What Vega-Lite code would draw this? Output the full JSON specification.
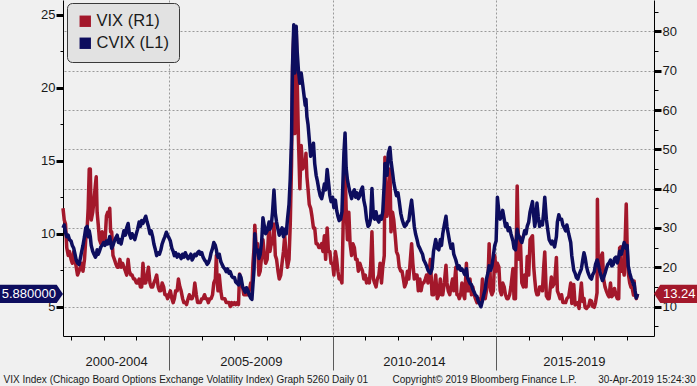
{
"$schema": "https://vega.github.io/schema/vega-lite/v6.json",
"width": 591, "height": 336,
"autosize": {"type": "none"},
"padding": {"left": 63, "top": 0, "right": 43, "bottom": 50},
"background": "#f0f0f0",
"config": {
 "view": {"stroke": null},
 "axis": {"labelFont": "Liberation Sans", "labelFontSize": 13, "labelColor": "#1a1a1a", "tickColor": "#000000", "domainColor": "#000000", "titleFont": "Liberation Sans", "titleFontWeight": "normal", "titleFontSize": 10, "titleColor": "#1a1a1a", "gridColor": "#9a9a9a", "gridDash": [2, 2], "gridWidth": 1},
 "legend": {"orient": "none", "legendX": 4, "legendY": 3, "direction": "vertical", "fillColor": "#e2e2e2", "strokeColor": "#3a3a3a", "cornerRadius": 5, "padding": 10, "symbolType": "square", "symbolSize": 130, "symbolStrokeWidth": 0, "labelFont": "Liberation Sans", "labelFontSize": 16.5, "labelColor": "#1a1a1a", "rowPadding": 5, "labelOffset": 3}
},
"datasets": {
 "lastvix": [{"v": 13.24, "t": "13.24"}],
 "lastcvix": [{"v": 5.88, "t": "5.880000"}],
 "series": [
{"d":"2001-10-04","vix":35,"cvix":10.4},{"d":"2001-10-18","vix":32,"cvix":10.6},{"d":"2001-11-01","vix":31,"cvix":10.1},{"d":"2001-11-15","vix":25,"cvix":9.8},{"d":"2001-12-01","vix":23,"cvix":9.9},{"d":"2001-12-15","vix":24,"cvix":9.6},
{"d":"2002-01-02","vix":22,"cvix":9.5},{"d":"2002-01-16","vix":21,"cvix":9.2},{"d":"2002-02-01","vix":24,"cvix":9.0},{"d":"2002-02-15","vix":22,"cvix":8.6},{"d":"2002-03-01","vix":20,"cvix":8.2},{"d":"2002-03-15","vix":18,"cvix":8.0},{"d":"2002-04-01","vix":19,"cvix":7.9},{"d":"2002-04-15","vix":20,"cvix":8.3},{"d":"2002-05-01","vix":21,"cvix":8.8},{"d":"2002-05-15","vix":19,"cvix":9.2},{"d":"2002-06-01","vix":22,"cvix":9.8},{"d":"2002-06-15","vix":27,"cvix":10.4},{"d":"2002-07-01","vix":30,"cvix":10.5},{"d":"2002-07-12","vix":35,"cvix":9.8},{"d":"2002-07-24","vix":45,"cvix":10.2},{"d":"2002-08-05","vix":45,"cvix":9.8},{"d":"2002-08-15","vix":32,"cvix":9.2},{"d":"2002-09-01","vix":34,"cvix":8.8},{"d":"2002-09-15","vix":37,"cvix":8.6},{"d":"2002-10-01","vix":41,"cvix":8.4},{"d":"2002-10-10","vix":43,"cvix":8.5},{"d":"2002-10-20","vix":34,"cvix":8.9},{"d":"2002-11-01","vix":31,"cvix":8.6},{"d":"2002-11-15","vix":27,"cvix":8.8},{"d":"2002-12-01","vix":26,"cvix":9.1},{"d":"2002-12-15","vix":29,"cvix":9.2},
{"d":"2003-01-01","vix":27,"cvix":9.4},{"d":"2003-01-15","vix":26,"cvix":9.2},{"d":"2003-02-01","vix":33,"cvix":9.5},{"d":"2003-02-15","vix":34,"cvix":9.3},{"d":"2003-03-01","vix":33,"cvix":9.6},{"d":"2003-03-10","vix":35,"cvix":9.8},{"d":"2003-03-20","vix":29,"cvix":9.4},{"d":"2003-04-01","vix":29,"cvix":9.0},{"d":"2003-04-15","vix":23,"cvix":9.2},{"d":"2003-05-01","vix":22,"cvix":9.5},{"d":"2003-05-15","vix":21,"cvix":9.7},{"d":"2003-06-01","vix":20,"cvix":9.9},{"d":"2003-06-15","vix":20,"cvix":9.4},{"d":"2003-07-01","vix":22,"cvix":9.6},{"d":"2003-07-15","vix":20,"cvix":9.3},{"d":"2003-08-01","vix":21,"cvix":9.8},{"d":"2003-08-15","vix":20,"cvix":10.2},{"d":"2003-09-01","vix":19,"cvix":9.9},{"d":"2003-09-15","vix":18,"cvix":10.4},{"d":"2003-10-01","vix":22,"cvix":10.7},{"d":"2003-10-15","vix":19,"cvix":10.0},{"d":"2003-11-01","vix":18,"cvix":9.7},{"d":"2003-11-15","vix":18,"cvix":10.0},{"d":"2003-12-01","vix":17,"cvix":9.8},{"d":"2003-12-15","vix":17,"cvix":9.6},
{"d":"2004-01-01","vix":16,"cvix":10.0},{"d":"2004-01-15","vix":16,"cvix":10.3},{"d":"2004-02-01","vix":17,"cvix":10.8},{"d":"2004-02-15","vix":15,"cvix":10.5},{"d":"2004-03-01","vix":15,"cvix":10.9},{"d":"2004-03-15","vix":21,"cvix":10.7},{"d":"2004-04-01","vix":16,"cvix":11.0},{"d":"2004-04-15","vix":16,"cvix":11.2},{"d":"2004-05-01","vix":18,"cvix":10.8},{"d":"2004-05-15","vix":20,"cvix":10.5},{"d":"2004-06-01","vix":16,"cvix":10.0},{"d":"2004-06-15","vix":15,"cvix":10.2},{"d":"2004-07-01","vix":15,"cvix":9.8},{"d":"2004-07-15","vix":16,"cvix":9.3},{"d":"2004-08-01","vix":17,"cvix":8.9},{"d":"2004-08-15","vix":18,"cvix":8.5},{"d":"2004-09-01","vix":15,"cvix":8.7},{"d":"2004-09-15","vix":14,"cvix":8.6},{"d":"2004-10-01","vix":14,"cvix":8.9},{"d":"2004-10-15","vix":16,"cvix":9.3},{"d":"2004-11-01","vix":15,"cvix":9.6},{"d":"2004-11-15","vix":13,"cvix":9.8},{"d":"2004-12-01","vix":13,"cvix":10.1},{"d":"2004-12-15","vix":12,"cvix":9.9},
{"d":"2005-01-01","vix":13,"cvix":9.7},{"d":"2005-01-15","vix":14,"cvix":9.5},{"d":"2005-02-01","vix":12,"cvix":9.0},{"d":"2005-02-15","vix":11,"cvix":8.8},{"d":"2005-03-01","vix":12,"cvix":8.5},{"d":"2005-03-15","vix":14,"cvix":8.7},{"d":"2005-04-01","vix":14,"cvix":8.4},{"d":"2005-04-15","vix":17,"cvix":8.6},{"d":"2005-05-01","vix":15,"cvix":8.5},{"d":"2005-05-15","vix":14,"cvix":8.3},{"d":"2005-06-01","vix":12,"cvix":8.6},{"d":"2005-06-15","vix":11,"cvix":8.4},{"d":"2005-07-01","vix":11,"cvix":8.7},{"d":"2005-07-15","vix":10.5,"cvix":8.5},{"d":"2005-08-01","vix":12,"cvix":8.3},{"d":"2005-08-15","vix":13,"cvix":8.4},{"d":"2005-09-01","vix":12,"cvix":8.6},{"d":"2005-09-15","vix":12,"cvix":8.2},{"d":"2005-10-01","vix":13,"cvix":8.4},{"d":"2005-10-15","vix":16,"cvix":8.6},{"d":"2005-11-01","vix":13,"cvix":8.5},{"d":"2005-11-15","vix":11,"cvix":8.7},{"d":"2005-12-01","vix":11,"cvix":8.8},{"d":"2005-12-15","vix":11,"cvix":8.6},
{"d":"2006-01-01","vix":12,"cvix":8.7},{"d":"2006-01-15","vix":12,"cvix":8.4},{"d":"2006-02-01","vix":13,"cvix":8.2},{"d":"2006-02-15","vix":12,"cvix":8.1},{"d":"2006-03-01","vix":12,"cvix":7.9},{"d":"2006-03-15","vix":11,"cvix":8.0},{"d":"2006-04-01","vix":12,"cvix":8.3},{"d":"2006-04-15","vix":12,"cvix":8.7},{"d":"2006-05-01","vix":13,"cvix":9.0},{"d":"2006-05-15","vix":16,"cvix":9.4},{"d":"2006-06-01","vix":17,"cvix":9.2},{"d":"2006-06-13","vix":23,"cvix":8.9},{"d":"2006-06-20","vix":17,"cvix":8.6},{"d":"2006-07-01","vix":14,"cvix":8.4},{"d":"2006-07-15","vix":18,"cvix":8.6},{"d":"2006-08-01","vix":14,"cvix":8.1},{"d":"2006-08-15","vix":12,"cvix":7.9},{"d":"2006-09-01","vix":12,"cvix":7.7},{"d":"2006-09-15","vix":12,"cvix":7.6},{"d":"2006-10-01","vix":11,"cvix":7.4},{"d":"2006-10-15","vix":11,"cvix":7.6},{"d":"2006-11-01","vix":11,"cvix":7.3},{"d":"2006-11-15","vix":10,"cvix":7.4},{"d":"2006-12-01","vix":11,"cvix":7.1},{"d":"2006-12-15","vix":10.5,"cvix":7.0},
{"d":"2007-01-01","vix":11,"cvix":7.0},{"d":"2007-01-15","vix":10.5,"cvix":6.7},{"d":"2007-02-01","vix":11,"cvix":6.6},{"d":"2007-02-15","vix":10.5,"cvix":6.5},{"d":"2007-02-27","vix":18.3,"cvix":7.2},{"d":"2007-03-15","vix":16,"cvix":7.0},{"d":"2007-04-01","vix":15,"cvix":6.4},{"d":"2007-04-15","vix":13,"cvix":6.2},{"d":"2007-05-01","vix":13,"cvix":6.0},{"d":"2007-05-15","vix":13,"cvix":6.3},{"d":"2007-06-01","vix":13,"cvix":6.1},{"d":"2007-06-15","vix":14,"cvix":5.8},{"d":"2007-07-01","vix":16,"cvix":5.6},{"d":"2007-07-15","vix":15,"cvix":5.5},{"d":"2007-07-26","vix":21,"cvix":6.5},{"d":"2007-08-08","vix":25,"cvix":7.6},{"d":"2007-08-16","vix":30.7,"cvix":10.0},{"d":"2007-09-01","vix":25,"cvix":8.8},{"d":"2007-09-15","vix":26,"cvix":8.9},{"d":"2007-10-01","vix":18,"cvix":8.3},{"d":"2007-10-15","vix":19,"cvix":8.6},{"d":"2007-11-01","vix":23,"cvix":9.5},{"d":"2007-11-15","vix":27,"cvix":11.1},{"d":"2007-12-01","vix":23,"cvix":10.5},{"d":"2007-12-15","vix":21,"cvix":10.0},
{"d":"2008-01-01","vix":22,"cvix":10.2},{"d":"2008-01-22","vix":31,"cvix":10.8},{"d":"2008-02-01","vix":24,"cvix":10.3},{"d":"2008-02-15","vix":26,"cvix":10.5},{"d":"2008-03-01","vix":26,"cvix":11.5},{"d":"2008-03-17","vix":31,"cvix":13.0},{"d":"2008-04-01","vix":23,"cvix":11.4},{"d":"2008-04-15","vix":22,"cvix":10.8},{"d":"2008-05-01","vix":19,"cvix":10.3},{"d":"2008-05-15","vix":17,"cvix":9.9},{"d":"2008-06-01","vix":18,"cvix":10.2},{"d":"2008-06-15","vix":21,"cvix":10.4},{"d":"2008-07-01","vix":24,"cvix":9.8},{"d":"2008-07-15","vix":28,"cvix":10.3},{"d":"2008-08-01","vix":23,"cvix":10.0},{"d":"2008-08-15","vix":20,"cvix":11.0},{"d":"2008-09-01","vix":22,"cvix":12.0},{"d":"2008-09-15","vix":31,"cvix":13.8},{"d":"2008-09-29","vix":46,"cvix":16.5},{"d":"2008-10-10","vix":70,"cvix":21.5},{"d":"2008-10-24","vix":79,"cvix":24.3},{"d":"2008-11-05","vix":54,"cvix":21.0},{"d":"2008-11-20","vix":80.9,"cvix":24.2},{"d":"2008-12-01","vix":68,"cvix":22.5},{"d":"2008-12-15","vix":53,"cvix":21.2},{"d":"2008-12-31","vix":40,"cvix":20.3},
{"d":"2009-01-15","vix":51,"cvix":21.0},{"d":"2009-02-01","vix":45,"cvix":20.2},{"d":"2009-02-15","vix":46,"cvix":19.5},{"d":"2009-03-01","vix":46,"cvix":18.8},{"d":"2009-03-09","vix":49,"cvix":19.2},{"d":"2009-03-20","vix":43,"cvix":18.0},{"d":"2009-04-01","vix":40,"cvix":17.5},{"d":"2009-04-15","vix":36,"cvix":16.5},{"d":"2009-05-01","vix":35,"cvix":15.3},{"d":"2009-05-15","vix":33,"cvix":15.8},{"d":"2009-06-01","vix":30,"cvix":16.2},{"d":"2009-06-15","vix":30,"cvix":14.8},{"d":"2009-07-01","vix":26,"cvix":14.0},{"d":"2009-07-15","vix":26,"cvix":13.6},{"d":"2009-08-01","vix":25,"cvix":13.0},{"d":"2009-08-15","vix":25,"cvix":12.6},{"d":"2009-09-01","vix":26,"cvix":12.4},{"d":"2009-09-15","vix":24,"cvix":12.8},{"d":"2009-10-01","vix":28,"cvix":13.4},{"d":"2009-10-15","vix":22,"cvix":13.0},{"d":"2009-11-01","vix":30,"cvix":14.4},{"d":"2009-11-15","vix":24,"cvix":13.6},{"d":"2009-12-01","vix":24,"cvix":12.6},{"d":"2009-12-15","vix":21,"cvix":12.2},
{"d":"2010-01-01","vix":21,"cvix":12.5},{"d":"2010-01-15","vix":18,"cvix":11.8},{"d":"2010-02-01","vix":24,"cvix":12.3},{"d":"2010-02-15","vix":22,"cvix":11.6},{"d":"2010-03-01","vix":19,"cvix":11.2},{"d":"2010-03-15","vix":17,"cvix":10.9},{"d":"2010-04-01","vix":17,"cvix":11.0},{"d":"2010-04-15","vix":16,"cvix":11.5},{"d":"2010-05-07","vix":40,"cvix":15.5},{"d":"2010-05-20","vix":45.8,"cvix":16.9},{"d":"2010-06-01","vix":35,"cvix":14.5},{"d":"2010-06-15","vix":27,"cvix":13.7},{"d":"2010-07-01","vix":34,"cvix":13.2},{"d":"2010-07-15","vix":26,"cvix":12.8},{"d":"2010-08-01","vix":23,"cvix":12.4},{"d":"2010-08-15","vix":26,"cvix":12.8},{"d":"2010-09-01","vix":25,"cvix":13.0},{"d":"2010-09-15","vix":22,"cvix":12.5},{"d":"2010-10-01","vix":22,"cvix":12.8},{"d":"2010-10-15","vix":19,"cvix":12.4},{"d":"2010-11-01","vix":21,"cvix":12.6},{"d":"2010-11-15","vix":20,"cvix":13.0},{"d":"2010-12-01","vix":19,"cvix":13.2},{"d":"2010-12-15","vix":17,"cvix":12.3},
{"d":"2011-01-01","vix":18,"cvix":11.8},{"d":"2011-01-15","vix":16,"cvix":11.0},{"d":"2011-02-01","vix":17,"cvix":10.5},{"d":"2011-02-15","vix":16,"cvix":10.6},{"d":"2011-03-01","vix":20,"cvix":11.0},{"d":"2011-03-16","vix":29,"cvix":13.1},{"d":"2011-04-01","vix":17,"cvix":11.2},{"d":"2011-04-15","vix":16,"cvix":11.0},{"d":"2011-05-01","vix":15,"cvix":11.5},{"d":"2011-05-15","vix":17,"cvix":11.0},{"d":"2011-06-01","vix":18,"cvix":10.8},{"d":"2011-06-15","vix":21,"cvix":11.2},{"d":"2011-07-01","vix":16,"cvix":11.0},{"d":"2011-07-15","vix":20,"cvix":11.5},{"d":"2011-08-01","vix":23,"cvix":13.5},{"d":"2011-08-08","vix":48,"cvix":14.8},{"d":"2011-08-20","vix":40,"cvix":14.5},{"d":"2011-09-01","vix":33,"cvix":14.0},{"d":"2011-09-15","vix":37,"cvix":15.5},{"d":"2011-10-03","vix":45,"cvix":15.9},{"d":"2011-10-15","vix":29,"cvix":15.0},{"d":"2011-11-01","vix":34,"cvix":14.2},{"d":"2011-11-15","vix":32,"cvix":13.5},{"d":"2011-12-01","vix":28,"cvix":13.0},{"d":"2011-12-15","vix":24,"cvix":12.6},
{"d":"2012-01-01","vix":23,"cvix":12.8},{"d":"2012-01-15","vix":20,"cvix":12.2},{"d":"2012-02-01","vix":19,"cvix":11.4},{"d":"2012-02-15","vix":19,"cvix":11.0},{"d":"2012-03-01","vix":17,"cvix":10.7},{"d":"2012-03-15","vix":15,"cvix":10.5},{"d":"2012-04-01","vix":16,"cvix":10.6},{"d":"2012-04-15","vix":19,"cvix":10.8},{"d":"2012-05-01","vix":17,"cvix":10.9},{"d":"2012-05-15","vix":21,"cvix":11.6},{"d":"2012-06-01","vix":26,"cvix":12.3},{"d":"2012-06-15","vix":21,"cvix":11.5},{"d":"2012-07-01","vix":17,"cvix":10.5},{"d":"2012-07-15","vix":18,"cvix":10.0},{"d":"2012-08-01","vix":18,"cvix":9.6},{"d":"2012-08-15","vix":14,"cvix":9.2},{"d":"2012-09-01","vix":17,"cvix":9.0},{"d":"2012-09-15","vix":14,"cvix":8.8},{"d":"2012-10-01","vix":16,"cvix":8.6},{"d":"2012-10-15","vix":16,"cvix":8.2},{"d":"2012-11-01","vix":17,"cvix":8.0},{"d":"2012-11-15","vix":18,"cvix":7.8},{"d":"2012-12-01","vix":16,"cvix":7.5},{"d":"2012-12-28","vix":22,"cvix":7.3},
{"d":"2013-01-15","vix":13,"cvix":7.6},{"d":"2013-02-01","vix":13,"cvix":8.8},{"d":"2013-02-25","vix":18,"cvix":9.6},{"d":"2013-03-15","vix":12,"cvix":9.0},{"d":"2013-04-01","vix":13,"cvix":8.9},{"d":"2013-04-18","vix":17,"cvix":9.6},{"d":"2013-05-01","vix":13,"cvix":9.2},{"d":"2013-05-15","vix":13,"cvix":10.0},{"d":"2013-06-01","vix":16,"cvix":10.6},{"d":"2013-06-20","vix":20.5,"cvix":11.2},{"d":"2013-07-01","vix":16,"cvix":10.5},{"d":"2013-07-15","vix":14,"cvix":10.0},{"d":"2013-08-01","vix":13,"cvix":9.4},{"d":"2013-08-15","vix":15,"cvix":9.0},{"d":"2013-09-01","vix":17,"cvix":9.3},{"d":"2013-09-15","vix":14,"cvix":8.6},{"d":"2013-10-08","vix":20,"cvix":8.2},{"d":"2013-10-20","vix":13,"cvix":7.9},{"d":"2013-11-01","vix":13,"cvix":7.6},{"d":"2013-11-15","vix":12,"cvix":7.8},{"d":"2013-12-01","vix":13,"cvix":7.5},{"d":"2013-12-15","vix":16,"cvix":7.6},
{"d":"2014-01-01","vix":13,"cvix":7.4},{"d":"2014-01-15","vix":12,"cvix":7.2},{"d":"2014-02-03","vix":21,"cvix":7.6},{"d":"2014-02-15","vix":14,"cvix":7.0},{"d":"2014-03-01","vix":14,"cvix":6.8},{"d":"2014-03-15","vix":17,"cvix":6.6},{"d":"2014-04-01","vix":13,"cvix":6.5},{"d":"2014-04-15","vix":15,"cvix":6.2},{"d":"2014-05-01","vix":13,"cvix":6.0},{"d":"2014-05-15","vix":12,"cvix":5.8},{"d":"2014-06-01","vix":11,"cvix":5.7},{"d":"2014-06-15","vix":12,"cvix":5.4},{"d":"2014-07-01","vix":11,"cvix":5.2},{"d":"2014-07-15","vix":11,"cvix":5.0},{"d":"2014-08-01","vix":17,"cvix":5.4},{"d":"2014-08-15","vix":13,"cvix":5.8},{"d":"2014-09-01","vix":12,"cvix":6.2},{"d":"2014-09-15","vix":14,"cvix":6.9},{"d":"2014-10-01","vix":16,"cvix":7.3},{"d":"2014-10-15","vix":26,"cvix":7.8},{"d":"2014-11-01","vix":14,"cvix":7.5},{"d":"2014-11-15","vix":13,"cvix":7.8},{"d":"2014-12-01","vix":14,"cvix":8.5},{"d":"2014-12-16","vix":23,"cvix":9.2},
{"d":"2015-01-01","vix":19,"cvix":9.5},{"d":"2015-01-15","vix":21,"cvix":12.5},{"d":"2015-02-01","vix":20,"cvix":11.5},{"d":"2015-02-15","vix":14,"cvix":11.0},{"d":"2015-03-01","vix":13,"cvix":11.2},{"d":"2015-03-15","vix":16,"cvix":11.6},{"d":"2015-04-01","vix":15,"cvix":11.0},{"d":"2015-04-15","vix":13,"cvix":10.5},{"d":"2015-05-01","vix":12,"cvix":10.7},{"d":"2015-05-15","vix":12,"cvix":10.2},{"d":"2015-06-01","vix":13,"cvix":10.4},{"d":"2015-06-15","vix":15,"cvix":10.0},{"d":"2015-07-08","vix":19.7,"cvix":9.5},{"d":"2015-07-20","vix":12,"cvix":9.0},{"d":"2015-08-05","vix":12,"cvix":8.9},{"d":"2015-08-24","vix":40.7,"cvix":10.3},{"d":"2015-09-01","vix":31,"cvix":10.0},{"d":"2015-09-15","vix":22,"cvix":9.8},{"d":"2015-09-28","vix":27.6,"cvix":9.6},{"d":"2015-10-15","vix":16,"cvix":9.4},{"d":"2015-11-01","vix":15,"cvix":9.8},{"d":"2015-11-15","vix":18,"cvix":10.2},{"d":"2015-12-01","vix":15,"cvix":10.0},{"d":"2015-12-14","vix":22.7,"cvix":10.5},{"d":"2015-12-31","vix":18,"cvix":10.8},
{"d":"2016-01-15","vix":27,"cvix":11.5},{"d":"2016-02-11","vix":28,"cvix":12.2},{"d":"2016-02-25","vix":20,"cvix":11.2},{"d":"2016-03-07","vix":17,"cvix":10.5},{"d":"2016-03-20","vix":14,"cvix":11.0},{"d":"2016-04-01","vix":13,"cvix":12.1},{"d":"2016-04-15","vix":13,"cvix":11.2},{"d":"2016-05-01","vix":15,"cvix":10.5},{"d":"2016-05-15","vix":15,"cvix":10.8},{"d":"2016-06-01","vix":14,"cvix":10.6},{"d":"2016-06-15","vix":20,"cvix":11.5},{"d":"2016-06-27","vix":23.9,"cvix":12.5},{"d":"2016-07-15","vix":12.7,"cvix":11.0},{"d":"2016-08-01","vix":12,"cvix":10.2},{"d":"2016-08-15","vix":12,"cvix":9.6},{"d":"2016-09-09","vix":17.5,"cvix":9.3},{"d":"2016-09-20","vix":15,"cvix":9.5},{"d":"2016-10-15","vix":16,"cvix":9.1},{"d":"2016-11-04","vix":22.5,"cvix":9.8},{"d":"2016-11-15","vix":14,"cvix":10.8},{"d":"2016-12-01","vix":13,"cvix":11.3},{"d":"2016-12-15","vix":12,"cvix":11.0},
{"d":"2017-01-01","vix":13,"cvix":11.0},{"d":"2017-01-15","vix":11,"cvix":10.6},{"d":"2017-02-01","vix":11,"cvix":10.4},{"d":"2017-02-15","vix":11,"cvix":10.2},{"d":"2017-03-01","vix":12,"cvix":10.6},{"d":"2017-03-21","vix":12.5,"cvix":10.0},{"d":"2017-04-13","vix":16,"cvix":9.4},{"d":"2017-04-25","vix":10.8,"cvix":8.5},{"d":"2017-05-17","vix":15.6,"cvix":7.5},{"d":"2017-06-01","vix":10.4,"cvix":7.3},{"d":"2017-06-15","vix":10.7,"cvix":7.0},{"d":"2017-07-01","vix":11,"cvix":6.9},{"d":"2017-07-15","vix":9.5,"cvix":7.2},{"d":"2017-08-10","vix":16,"cvix":7.6},{"d":"2017-08-25","vix":11.3,"cvix":8.2},{"d":"2017-09-08","vix":12.1,"cvix":8.7},{"d":"2017-09-20","vix":9.8,"cvix":8.4},{"d":"2017-10-05","vix":9.5,"cvix":7.8},{"d":"2017-10-20","vix":9.9,"cvix":7.4},{"d":"2017-11-01","vix":10.2,"cvix":7.2},{"d":"2017-11-15","vix":11.6,"cvix":7.0},{"d":"2017-12-01","vix":11.4,"cvix":6.9},{"d":"2017-12-15","vix":10,"cvix":7.2},
{"d":"2018-01-01","vix":9.8,"cvix":7.4},{"d":"2018-01-15","vix":11,"cvix":7.9},{"d":"2018-02-01","vix":13.5,"cvix":8.2},{"d":"2018-02-05","vix":37.3,"cvix":8.2},{"d":"2018-02-15","vix":19.5,"cvix":7.9},{"d":"2018-03-01","vix":19,"cvix":7.5},{"d":"2018-03-22","vix":23,"cvix":7.0},{"d":"2018-04-02","vix":23.6,"cvix":6.8},{"d":"2018-04-15","vix":17,"cvix":7.0},{"d":"2018-05-01","vix":15,"cvix":7.3},{"d":"2018-05-15","vix":14,"cvix":7.6},{"d":"2018-06-01","vix":13,"cvix":7.9},{"d":"2018-06-15","vix":12.5,"cvix":8.0},{"d":"2018-07-01","vix":16,"cvix":8.2},{"d":"2018-07-15","vix":12.5,"cvix":7.8},{"d":"2018-08-01","vix":13,"cvix":7.9},{"d":"2018-08-15","vix":14.6,"cvix":8.3},{"d":"2018-09-01","vix":12.9,"cvix":8.4},{"d":"2018-09-15","vix":12,"cvix":8.0},{"d":"2018-10-01","vix":12,"cvix":8.4},{"d":"2018-10-11","vix":24.9,"cvix":8.8},{"d":"2018-10-24","vix":25.2,"cvix":8.7},{"d":"2018-11-01","vix":19,"cvix":8.6},{"d":"2018-11-15","vix":20,"cvix":9.0},{"d":"2018-12-01","vix":18,"cvix":9.4},{"d":"2018-12-24","vix":36.1,"cvix":9.0},
{"d":"2019-01-03","vix":25.5,"cvix":9.2},{"d":"2019-01-15","vix":18.6,"cvix":7.8},{"d":"2019-02-01","vix":16,"cvix":7.3},{"d":"2019-02-15","vix":14.9,"cvix":7.0},{"d":"2019-03-01","vix":14.6,"cvix":6.8},{"d":"2019-03-15","vix":12.9,"cvix":6.5},{"d":"2019-03-22","vix":16.5,"cvix":6.6},{"d":"2019-04-01","vix":13.4,"cvix":6.1},{"d":"2019-04-15","vix":12,"cvix":5.6},{"d":"2019-04-30","vix":13.24,"cvix":5.88}
 ]
},
"layer": [
 {
  "data": {"name": "series"},
  "mark": {"type": "line", "strokeWidth": 3.5, "strokeJoin": "round"},
  "encoding": {
   "x": {"field": "d", "type": "temporal",
     "scale": {"domain": [{"year": 2001, "month": 10, "date": 4}, {"year": 2019, "month": 10, "date": 30}]},
     "axis": {"orient": "bottom", "values": [{"year":2002,"month":1,"date":1},{"year":2003,"month":1,"date":1},{"year":2004,"month":1,"date":1},{"year":2005,"month":1,"date":1},{"year":2006,"month":1,"date":1},{"year":2007,"month":1,"date":1},{"year":2008,"month":1,"date":1},{"year":2009,"month":1,"date":1},{"year":2010,"month":1,"date":1},{"year":2011,"month":1,"date":1},{"year":2012,"month":1,"date":1},{"year":2013,"month":1,"date":1},{"year":2014,"month":1,"date":1},{"year":2015,"month":1,"date":1},{"year":2016,"month":1,"date":1},{"year":2017,"month":1,"date":1},{"year":2018,"month":1,"date":1},{"year":2019,"month":1,"date":1}],
       "labels": false, "tickSize": 4, "grid": false, "domain": true,
       "title": "VIX Index (Chicago Board Options Exchange Volatility Index) Graph 5260  Daily 01",
       "titleX": -60, "titleY": 46, "titleAlign": "left", "titleBaseline": "alphabetic"}},
   "y": {"field": "vix", "type": "quantitative",
     "scale": {"domain": [2.5, 88], "nice": false, "zero": false},
     "axis": {"orient": "right", "values": [10, 20, 30, 40, 50, 60, 70, 80], "tickSize": 7, "tickWidth": 3, "grid": true, "labelPadding": 1, "title": null, "domain": true}},
   "color": {"datum": "VIX (R1)", "type": "nominal",
     "scale": {"domain": ["VIX (R1)", "CVIX (L1)"], "range": ["#a3182b", "#0d0d5e"]},
     "legend": {"title": null, "encode": {"symbols": {"update": {"fill": {"scale": "color", "field": "value"}, "stroke": {"value": "transparent"}, "strokeWidth": {"value": 0}}}}}}
  }
 },
 {
  "data": {"name": "series"},
  "mark": {"type": "line", "strokeWidth": 3.5, "strokeJoin": "round"},
  "encoding": {
   "x": {"field": "d", "type": "temporal",
     "axis": {"orient": "bottom", "values": [{"year":2005,"month":1,"date":1},{"year":2010,"month":1,"date":1},{"year":2015,"month":1,"date":1}],
       "labels": false, "tickSize": 34, "tickColor": "#5a5a5a", "grid": true, "domain": false,
       "title": "Copyright© 2019 Bloomberg Finance L.P.",
       "titleX": 329, "titleY": 46, "titleAlign": "left", "titleBaseline": "alphabetic"}},
   "y": {"field": "cvix", "type": "quantitative",
     "scale": {"domain": [3, 26], "nice": false, "zero": false},
     "axis": {"orient": "left", "values": [5, 10, 15, 20, 25], "tickSize": 7, "tickWidth": 3, "grid": false, "labelPadding": 1, "title": null, "domain": true}},
   "color": {"datum": "CVIX (L1)", "type": "nominal"}
  }
 },
 {
  "data": {"name": "lastvix"},
  "mark": {"type": "point", "shape": "M0,0L0.1,-0.145L1,-0.145L1,0.145L0.1,0.145Z", "filled": true, "color": "#a3182b", "opacity": 1, "size": 15876},
  "encoding": {
   "x": {"datum": {"year": 2019, "month": 10, "date": 30}, "type": "temporal",
     "axis": {"orient": "bottom", "values": [{"year":2003,"month":5,"date":20},{"year":2007,"month":7,"date":2},{"year":2012,"month":6,"date":27},{"year":2017,"month":5,"date":18}],
       "labelExpr": "year(datum.value) == 2003 ? '2000-2004' : year(datum.value) == 2007 ? '2005-2009' : year(datum.value) == 2012 ? '2010-2014' : '2015-2019'",
       "tickSize": 0, "domain": false, "grid": false, "labelPadding": 19, "labelFlush": false, "labelOverlap": false,
       "title": "30-Apr-2019 15:24:30",
       "titleX": 632, "titleY": 46, "titleAlign": "right", "titleBaseline": "alphabetic"}},
   "y": {"field": "v", "type": "quantitative",
     "scale": {"domain": [2.5, 88], "nice": false, "zero": false},
     "axis": {"orient": "right", "values": [5, 15, 25, 35, 45, 55, 65, 75, 85], "tickSize": 4, "labels": false, "grid": false, "domain": false, "title": null}}
  }
 },
 {
  "data": {"name": "lastvix"},
  "mark": {"type": "text", "align": "left", "baseline": "middle", "dx": 9, "color": "#ffffff", "font": "Liberation Sans", "fontSize": 13},
  "encoding": {
   "x": {"datum": {"year": 2019, "month": 10, "date": 30}, "type": "temporal", "axis": null},
   "y": {"field": "v", "type": "quantitative", "scale": {"domain": [2.5, 88], "nice": false, "zero": false}, "axis": null},
   "text": {"field": "t"}
  }
 },
 {
  "data": {"name": "lastcvix"},
  "mark": {"type": "point", "shape": "M0,0L-0.1,-0.145L-1,-0.145L-1,0.145L-0.1,0.145Z", "filled": true, "color": "#0d0d5e", "opacity": 1, "size": 15876},
  "encoding": {
   "x": {"datum": {"year": 2001, "month": 10, "date": 4}, "type": "temporal", "axis": null},
   "y": {"field": "v", "type": "quantitative",
     "scale": {"domain": [3, 26], "nice": false, "zero": false},
     "axis": {"orient": "left", "values": [7.5, 12.5, 17.5, 22.5], "tickSize": 3, "labels": false, "grid": false, "domain": false, "title": null}}
  }
 },
 {
  "data": {"name": "lastcvix"},
  "mark": {"type": "text", "align": "right", "baseline": "middle", "dx": -7, "color": "#ffffff", "font": "Liberation Sans", "fontSize": 13},
  "encoding": {
   "x": {"datum": {"year": 2001, "month": 10, "date": 4}, "type": "temporal", "axis": null},
   "y": {"field": "v", "type": "quantitative", "scale": {"domain": [3, 26], "nice": false, "zero": false}, "axis": null},
   "text": {"field": "t"}
  }
 }
],
"resolve": {"scale": {"y": "independent"}, "axis": {"x": "independent", "y": "independent"}}
}
